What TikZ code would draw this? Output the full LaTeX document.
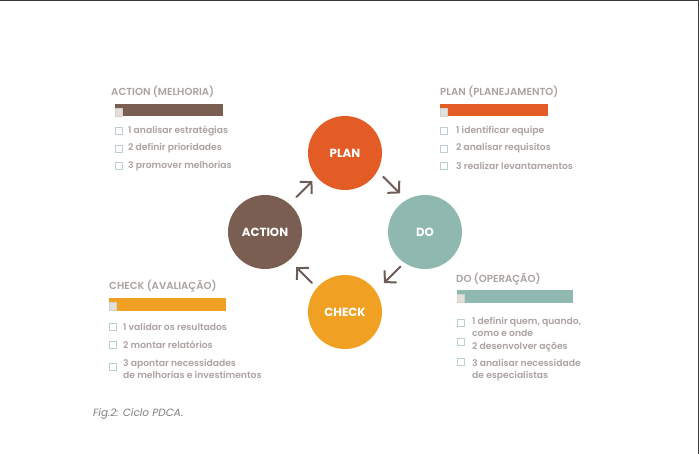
\documentclass[tikz,border=0pt]{standalone}
\usepackage{fontspec}
\setmainfont{Poppins}
\newfontfamily\medfont{Poppins SemiBold}
\usetikzlibrary{arrows.meta}
\definecolor{planc}{HTML}{E35B25}
\definecolor{doc}{HTML}{8FB8B0}
\definecolor{checkc}{HTML}{F0A123}
\definecolor{actc}{HTML}{7A5E52}
\definecolor{arrc}{HTML}{6D5B56}
\definecolor{txtc}{HTML}{ABA3A0}
\definecolor{boxc}{HTML}{B9D0D2}
\definecolor{tickc}{HTML}{E3DFDB}

\begin{document}
\begin{tikzpicture}[x=1pt,y=-1pt,line cap=round,line join=round,>={Straight Barb[length=8pt,width=17pt]},
    phase/.style={circle,minimum size=74pt,inner sep=0pt,text=white,font=\fontsize{11.8}{13}\selectfont\bfseries},
    ttl/.style={anchor=west,inner sep=0pt,text=txtc,font=\fontsize{10.2}{12}\medfont},
    itm/.style={anchor=west,inner sep=0pt,text=txtc,align=left,font=\fontsize{9.2}{12}\medfont},
    chk/.style={draw=boxc,line width=0.8pt,minimum size=7pt,inner sep=0pt},
    cyc/.style={->,color=arrc,line width=2pt}]
        \useasboundingbox (0,0) rectangle (699,454);
        \fill[white] (0,0) rectangle (699,454);
        \draw[color=black!78,line width=1.5pt] (0,0.75) -- (698.25,0.75) -- (698.25,454);
        % cycle
        \node[phase,fill=planc] (plan) at (345,153) {PLAN};
        \node[phase,fill=doc] (do) at (425,232) {DO};
        \node[phase,fill=checkc] (check) at (345,312) {CHECK};
        \node[phase,fill=actc] (action) at (265,232) {ACTION};
        \draw[cyc,shorten <=44pt,shorten >=45pt] ([xshift=7pt,yshift=7pt]plan.center) -- ([xshift=7pt,yshift=7pt]do.center);
        \draw[cyc,shorten <=42pt,shorten >=48pt] ([xshift=5pt,yshift=-5pt]do.center) -- ([xshift=5pt,yshift=-5pt]check.center);
        \draw[cyc,shorten <=44pt,shorten >=47pt] ([xshift=-2pt,yshift=-2pt]check.center) -- ([xshift=-2pt,yshift=-2pt]action.center);
        \draw[cyc,shorten <=47pt,shorten >=43pt] ([xshift=-2pt,yshift=2pt]action.center) -- ([xshift=-2pt,yshift=2pt]plan.center);
        % action
        \node[ttl] (actttl) at (111,92) {ACTION (MELHORIA)};
        \fill[actc] (115,104) rectangle (223,116);
        \filldraw[fill=tickc,draw=tickc!85!gray] (115,108) rectangle (122,116);
        \foreach \y/\t [count=\i] in {131/1 analisar estratégias,148.5/2 definir prioridades,166/3 promover melhorias}{
          \node[chk] (actbox\i) at (119,\y) {};
          \node[itm] (actitm\i) at (128,\y) {\t};
        }
        % plan
        \node[ttl] (planttl) at (440,92) {PLAN (PLANEJAMENTO)};
        \fill[planc] (440,104) rectangle (548,116);
        \filldraw[fill=tickc,draw=tickc!85!gray] (440,108) rectangle (447,116);
        \foreach \y/\t [count=\i] in {131/1 identificar equipe,148.5/2 analisar requisitos,166/3 realizar levantamentos}{
          \node[chk] (planbox\i) at (444,\y) {};
          \node[itm] (planitm\i) at (456,\y) {\t};
        }
        % check
        \node[ttl] (checkttl) at (109,286) {CHECK (AVALIAÇÃO)};
        \fill[checkc] (109,298) rectangle (226,311);
        \filldraw[fill=tickc,draw=tickc!85!gray] (109,302) rectangle (116,310);
        \node[chk] (checkbox1) at (113,327) {};
        \node[itm] (checkitm1) at (123,327) {1 validar os resultados};
        \node[chk] (checkbox2) at (113,345) {};
        \node[itm] (checkitm2) at (123,345) {2 montar relatórios};
        \node[chk] (checkbox3) at (113,367) {};
        \node[itm] (checkitm3) at (123,368.5) {3 apontar necessidades\\de melhorias e investimentos};
        % do
        \node[ttl] (dottl) at (456,279) {DO (OPERAÇÃO)};
        \fill[doc] (457,290) rectangle (573,303);
        \filldraw[fill=tickc,draw=tickc!85!gray] (457,294) rectangle (464,302);
        \node[chk] (dobox1) at (461,323) {};
        \node[itm] (doitm1) at (472,327) {1 definir quem, quando,\\como e onde};
        \node[chk] (dobox2) at (461,342) {};
        \node[itm] (doitm2) at (472,347) {2 desenvolver ações};
        \node[chk] (dobox3) at (461,362) {};
        \node[itm] (doitm3) at (472,370) {3 analisar necessidade\\de especialistas};
        % caption
        \node[anchor=west,inner sep=0pt,text=black!50,font=\fontsize{10.5}{12}\selectfont\itshape] (caption) at (93,414) {Fig.2: Ciclo PDCA.};
      \end{tikzpicture}
\end{document}
